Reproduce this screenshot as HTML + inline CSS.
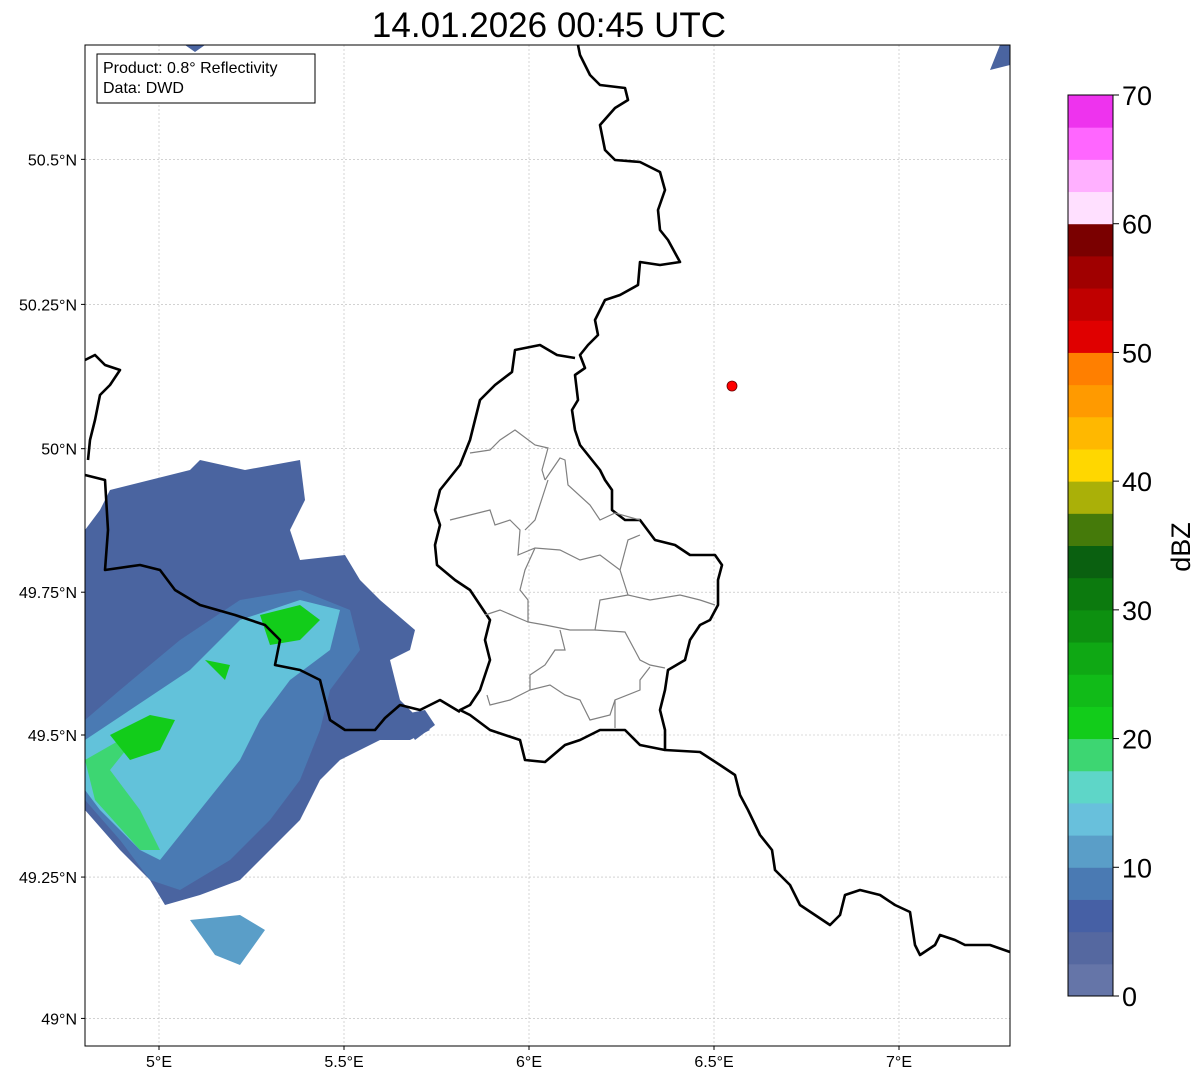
<!DOCTYPE html>
<html><head><meta charset="utf-8"><style>
body{margin:0;background:#fff;font-family:"Liberation Sans",sans-serif}
svg{display:block}
</style></head><body>
<svg width="1202" height="1081" viewBox="0 0 1202 1081">
<text x="549" y="37" font-size="35" text-anchor="middle">14.01.2026 00:45 UTC</text>
<g>
<rect x="85" y="45" width="925" height="1001" fill="#fff"/>
<g id="grid" stroke="#b8b8b8" stroke-width="0.6" stroke-dasharray="2,2"></g>
<g clip-path="url(#c)">
<clipPath id="c"><rect x="85" y="45" width="925" height="1001"/></clipPath>
<polygon fill="#4a64a0" points="85,530 100,510 110,490 150,480 190,470 200,460 245,470 300,460 305,500 290,530 300,560 345,555 360,580 380,600 415,630 410,650 390,660 400,700 420,720 430,730 410,740 380,740 340,760 320,780 300,820 270,850 240,880 200,895 165,905 150,880 120,850 85,810"/>
<polygon fill="#4a7ab3" points="85,720 120,690 180,640 240,600 300,590 350,610 360,650 330,690 320,730 300,780 270,820 230,860 180,890 150,880 120,840 85,800"/>
<polygon fill="#62c2da" points="85,740 130,710 190,670 240,620 300,600 340,610 330,650 290,680 260,720 240,760 200,810 160,860 140,850 100,810 85,790"/>
<polygon fill="#3dd672" points="85,760 120,740 150,720 110,770 140,810 160,850 140,850 95,800"/>
<polygon fill="#12cc1a" points="110,735 150,715 175,720 160,750 130,760"/>
<polygon fill="#12cc1a" points="260,615 300,605 320,620 300,640 270,645"/>
<polygon fill="#12cc1a" points="205,660 230,665 225,680"/>
<polygon fill="#5a9ec8" points="190,920 240,915 265,930 240,965 215,955"/>
<polygon fill="#4a64a0" points="1000,45 1010,45 1010,65 990,70"/>
<polygon fill="#4a64a0" points="185,45 205,45 195,52"/>
<polygon fill="#4a64a0" points="400,715 425,710 435,725 415,740"/>
</g>
<g fill="none" stroke="#000" stroke-width="2.6" stroke-linejoin="round">
<polyline points="578,45 580,55 590,75 600,85 625,88 628,100 615,108 600,125 605,150 615,160 640,162 660,172 665,190 658,210 660,230 668,240 680,262 660,265 640,262 638,285 620,295 605,300 595,320 598,335 588,345 580,355 585,368 575,375 578,400 572,410 575,430 580,445 592,460 600,470 605,480 612,490 612,510 625,520 640,520 655,540 675,545 690,555 715,555 722,565 718,580 718,605 710,620 700,625 690,640 685,660 668,670 665,690 660,710 665,730 665,750 700,752 720,765 735,775 740,795 748,810 760,835 772,850 775,870 790,885 800,905 815,915 830,925 840,915 845,895 860,890 880,895 895,905 910,912 915,945 920,955 935,945 940,935 955,940 965,945 990,945 1010,952"/>
<polyline points="575,358 557,355 540,345 515,350 512,372 495,385 480,400 470,440 460,465 440,490 435,510 440,525 435,545 437,565 455,580 470,590 480,605 490,620 485,640 490,660 480,690 470,705 460,710 470,715 490,730 520,740 525,760 545,762 565,745 580,740 600,730 625,730 640,745 665,750"/>
<polyline points="85,475 105,480 108,530 105,570 140,565 160,570 175,590 200,605 235,615 265,625 280,640 275,665 300,670 320,680 325,700 330,720 345,730 375,730 385,718 400,705 420,710 440,700 460,712"/>
<polyline points="85,360 95,355 105,365 120,370 110,385 100,395 95,420 90,440 88,460"/>
</g>
<g fill="none" stroke="#808080" stroke-width="1.2">
<polyline points="470,453 490,450 500,440 515,430 535,445 548,448 542,470 545,480"/>
<polyline points="545,480 560,458 565,460 568,485 590,505 600,520 615,513 640,520"/>
<polyline points="450,520 470,515 490,510 495,525 510,520 520,530 518,555 535,548 560,550 580,560 600,555 620,570 628,595"/>
<polyline points="548,480 535,520 525,530"/>
<polyline points="620,570 628,540 640,535"/>
<polyline points="628,595 650,600 680,595 700,600 715,605"/>
<polyline points="628,595 600,600 595,630 570,630 545,625 528,622 528,600 520,590 525,570 535,548"/>
<polyline points="485,615 500,610 528,622"/>
<polyline points="595,630 625,632 640,660 650,665 665,668"/>
<polyline points="560,630 565,650 555,650 545,665 530,675 530,690 550,685 565,695 580,700 590,720 610,715 615,700 640,690 640,680 650,667"/>
<polyline points="530,690 510,700 490,705 487,695"/>
<polyline points="615,700 615,728"/>
</g>
<circle cx="732" cy="386" r="5" fill="#f00" stroke="#600" stroke-width="0.8"/>
<rect x="85" y="45" width="925" height="1001" fill="none" stroke="#000" stroke-width="1"/>
<g>
<rect x="97" y="54" width="218" height="49" fill="#fff" stroke="#000" stroke-width="1"/>
<text x="103" y="73" font-size="16">Product: 0.8° Reflectivity</text>
<text x="103" y="93" font-size="16">Data: DWD</text>
</g>
</g>
<g id="ticks" font-size="16"></g>
<g id="cbar"></g>
<text transform="translate(1190,547) rotate(-90)" font-size="27" text-anchor="middle">dBZ</text>
<script>
const lonTicks=[5,5.5,6,6.5,7];
const lonLabels=["5°E","5.5°E","6°E","6.5°E","7°E"];
const latTicks=[49,49.25,49.5,49.75,50,50.25,50.5];
const latLabels=["49°N","49.25°N","49.5°N","49.75°N","50°N","50.25°N","50.5°N"];
const cbarLevels=[0,10,20,30,40,50,60,70];
const cbarColors=["#6575a8","#5568a0","#4660a5","#4a7ab3","#5a9ec8","#68c0dc","#5ed6c8","#3dd672","#12cc1a","#11bb18","#0fa814","#0d9010","#0c7a0e","#0a6010","#457a0a","#aab008","#ffd700","#ffb800","#ff9a00","#ff7f00","#e00000","#c00000","#a00000","#7a0000","#ffe0ff","#ffb0ff","#ff66ff","#ee33ee"];
const NS="http://www.w3.org/2000/svg";
const xLon=l=>159+(l-5)*370;
const mer=l=>Math.log(Math.tan(Math.PI/4+l*Math.PI/360));
const yLat=l=>735-(mer(l)-mer(49.5))*(180/Math.PI)*370;
function mk(t,a,p){const e=document.createElementNS(NS,t);for(const k in a)e.setAttribute(k,a[k]);p.appendChild(e);return e;}
const grid=document.getElementById('grid'),ticks=document.getElementById('ticks');
lonTicks.forEach((l,i)=>{const x=xLon(l);
const g=mk('line',{x1:x,x2:x,y1:45,y2:1046},grid);


mk('line',{x1:x,x2:x,y1:1046,y2:1050,stroke:'#000'},ticks);
const t=mk('text',{x:x,y:1067,'text-anchor':'middle'},ticks);t.textContent=lonLabels[i];

});
latTicks.forEach((l,i)=>{const y=yLat(l);
const g=mk('line',{x1:85,x2:1010,y1:y,y2:y},grid);


mk('line',{x1:81,x2:85,y1:y,y2:y,stroke:'#000'},ticks);
const t=mk('text',{x:77,y:y+6,'text-anchor':'end'},ticks);t.textContent=latLabels[i];

});
const cb=document.getElementById('cbar');const cy0=996,cy1=95,vmax=70;
const cY=v=>cy0-(v/vmax)*(cy0-cy1);const step=vmax/cbarColors.length;
cbarColors.forEach((c,i)=>{const r=mk('rect',{x:1068,width:45,y:cY((i+1)*step),height:cY(i*step)-cY((i+1)*step)+0.5,fill:c},cb);

});
mk('rect',{x:1068,y:cy1,width:45,height:cy0-cy1,fill:'none',stroke:'#000'},cb);
cbarLevels.forEach(v=>{const y=cY(v);mk('line',{x1:1113,x2:1119,y1:y,y2:y,stroke:'#000'},cb);
const t=mk('text',{x:1122,y:y+10,'font-size':27},cb);t.textContent=v;

});
</script>
</svg>
</body></html>
